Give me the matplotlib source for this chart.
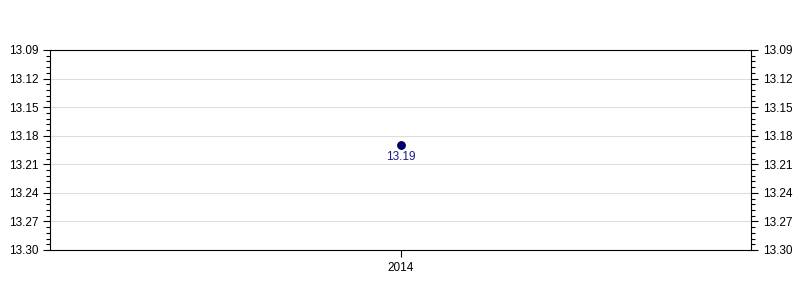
import matplotlib
matplotlib.use("Agg")
import matplotlib.pyplot as plt
import numpy as np
from matplotlib.ticker import FixedLocator, FormatStrFormatter

plt.rcParams['font.family'] = ['Liberation Sans', 'DejaVu Sans']

years = ["2014"]
values = [13.19]
labels = ["13.19"]

y_top, y_bottom = 13.09, 13.30

fig = plt.figure(figsize=(8, 3), dpi=100)
ax = fig.add_axes([50/800, 50/300, 701/800, 200/300])

x = list(range(len(years)))
ax.plot(x, values, linestyle='none', marker='o', markersize=5.5,
        markerfacecolor='#000080', markeredgecolor='#000033', markeredgewidth=0.8, zorder=3)
for xi, v, t in zip(x, values, labels):
    ax.annotate(t, (xi, v), xytext=(0, -4.5), textcoords='offset points',
                ha='center', va='top', color='#1a1a8c', fontsize=8.5)

ax.set_xlim(-0.5, len(years) - 0.5)
ax.set_xticks(x)
ax.set_xticklabels(years)
ax.set_ylim(y_bottom, y_top)
major = np.round(np.arange(0, 8) * 0.03 + y_top, 2)
minor = np.round(np.arange(0, 36) * 0.006 + y_top, 3)
ax.yaxis.set_major_locator(FixedLocator(major))
ax.yaxis.set_minor_locator(FixedLocator(minor))
ax.yaxis.set_major_formatter(FormatStrFormatter('%.2f'))
ax.grid(axis='y', which='major', color='#dddddd', linewidth=0.8)
ax.set_axisbelow(True)

ax.tick_params(axis='y', which='both', left=True, right=True, labelleft=True, labelright=True,
               direction='out', labelsize=8.5, colors='black')
ax.tick_params(axis='y', which='major', length=5, width=0.8)
ax.tick_params(axis='y', which='minor', length=3, width=0.8)
ax.tick_params(axis='x', which='major', length=5, width=0.8, labelsize=8.5)
for s in ax.spines.values():
    s.set_linewidth(0.8)
    s.set_color('black')

fig.savefig("out.png", dpi=100)
